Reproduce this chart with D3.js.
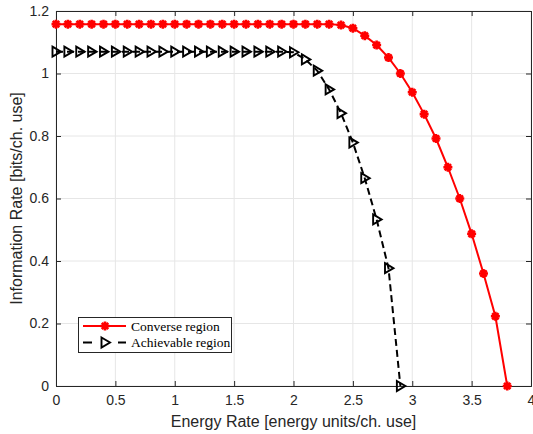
<!DOCTYPE html>
<html><head><meta charset="utf-8">
<script src="https://cdn.jsdelivr.net/npm/d3@7"></script>
<style>body{margin:0;background:#fff}svg{display:block}</style>
</head><body>
<svg id="chart" width="533" height="434"></svg>
<script>
const converseX = [0,0.1,0.2,0.3,0.4,0.5,0.6,0.7,0.8,0.9,1.0,1.1,1.2,1.3,1.4,1.5,1.6,1.7,1.8,1.9,2.0,2.1,2.2,2.3,2.4,2.5,2.6,2.7,2.8,2.9,3.0,3.1,3.2,3.3,3.4,3.5,3.6,3.7,3.8];
const converseY = [1.158,1.158,1.158,1.158,1.158,1.158,1.158,1.158,1.158,1.158,1.158,1.158,1.158,1.158,1.158,1.158,1.158,1.158,1.158,1.158,1.158,1.158,1.158,1.158,1.155,1.145,1.121,1.091,1.051,1.0,0.94,0.87,0.792,0.70,0.60,0.487,0.36,0.223,0];
const achievX = [0,0.1,0.2,0.3,0.4,0.5,0.6,0.7,0.8,0.9,1.0,1.1,1.2,1.3,1.4,1.5,1.6,1.7,1.8,1.9,2.0,2.1,2.2,2.3,2.4,2.5,2.6,2.7,2.8,2.9];
const achievY = [1.07,1.07,1.07,1.07,1.07,1.07,1.07,1.07,1.07,1.07,1.07,1.07,1.07,1.07,1.07,1.07,1.07,1.07,1.07,1.07,1.068,1.045,1.009,0.949,0.873,0.779,0.665,0.533,0.377,0];
const xTicks = [0,0.5,1,1.5,2,2.5,3,3.5,4];
const yTicks = [0,0.2,0.4,0.6,0.8,1,1.2];
const seriesNames = ["Converse region","Achievable region"];

const svg = d3.select("#chart");
const L=56, R=531, T=11, B=386;
const x = d3.scaleLinear().domain([0,4]).range([L,R]);
const y = d3.scaleLinear().domain([0,1.2]).range([B,T]);
const axisColor = "#262626";

// grid
const g = svg.append("g");
g.selectAll(".gx").data(xTicks).join("line")
  .attr("x1",d=>x(d)).attr("x2",d=>x(d)).attr("y1",T).attr("y2",B)
  .attr("stroke","#e6e6e6").attr("stroke-width",1);
g.selectAll(".gy").data(yTicks).join("line")
  .attr("x1",L).attr("x2",R).attr("y1",d=>y(d)).attr("y2",d=>y(d))
  .attr("stroke","#e6e6e6").attr("stroke-width",1);

// axes
const font = "'Liberation Sans', Arial, Helvetica, sans-serif";
const ax = svg.append("g").attr("transform",`translate(0,${B})`)
  .call(d3.axisBottom(x).tickValues(xTicks).tickSize(-5).tickPadding(9).tickFormat(d3.format("")));
const ay = svg.append("g").attr("transform",`translate(${L},0)`)
  .call(d3.axisLeft(y).tickValues(yTicks).tickSize(-5).tickPadding(7).tickFormat(d3.format("")));
const axT = svg.append("g").attr("transform",`translate(0,${T})`)
  .call(d3.axisTop(x).tickValues(xTicks).tickSize(-5).tickFormat(""));
const ayR = svg.append("g").attr("transform",`translate(${R},0)`)
  .call(d3.axisRight(y).tickValues(yTicks).tickSize(-5).tickFormat(""));
[ax,ay,axT,ayR].forEach(a=>{
  a.select(".domain").attr("stroke",axisColor).attr("stroke-width",1);
  a.selectAll(".tick line").attr("stroke",axisColor);
  a.selectAll("text").attr("fill",axisColor).style("font-family",font).style("font-size","14px");
});

// series
const lineC = d3.line().x((d,i)=>x(converseX[i])).y(d=>y(d));
const lineA = d3.line().x((d,i)=>x(achievX[i])).y(d=>y(d));
const plot = svg.append("g");

plot.append("path").datum(converseY).attr("d",lineC)
  .attr("fill","none").attr("stroke","#ff0000").attr("stroke-width",2);
const star = "M-4.5,0L4.5,0M0,-4.5L0,4.5M-3.2,-3.2L3.2,3.2M-3.2,3.2L3.2,-3.2";
plot.selectAll(".mc").data(converseY).join("path")
  .attr("transform",(d,i)=>`translate(${x(converseX[i])},${y(d)})`)
  .attr("d",star).attr("fill","none").attr("stroke","#ff0000").attr("stroke-width",2.6);

plot.append("path").datum(achievY).attr("d",lineA)
  .attr("fill","none").attr("stroke","#000").attr("stroke-width",2).attr("stroke-dasharray","7,4");
const tri = "M-3.5,-5L5,0L-3.5,5Z";
plot.selectAll(".ma").data(achievY).join("path")
  .attr("transform",(d,i)=>`translate(${x(achievX[i])},${y(d)})`)
  .attr("d",tri).attr("fill","none").attr("stroke","#000").attr("stroke-width",1.9).attr("stroke-linejoin","miter");

// labels
svg.append("text").attr("x",(L+R)/2 - 0).attr("y",427).attr("text-anchor","middle")
  .attr("fill",axisColor).style("font-family",font).style("font-size","16px")
  .text("Energy Rate [energy units/ch. use]");
svg.append("text").attr("transform",`translate(22,${(T+B)/2}) rotate(-90)`).attr("text-anchor","middle")
  .attr("fill",axisColor).style("font-family",font).style("font-size","16px")
  .text("Information Rate [bits/ch. use]");

// legend
const lg = svg.append("g");
lg.append("rect").attr("x",78.5).attr("y",317.5).attr("width",153).attr("height",35)
  .attr("fill","#fff").attr("stroke",axisColor).attr("stroke-width",1);
const rowsY = [326,342.5];
lg.append("line").attr("x1",83).attr("x2",126).attr("y1",rowsY[0]).attr("y2",rowsY[0])
  .attr("stroke","#ff0000").attr("stroke-width",2);
lg.append("path").attr("transform",`translate(105,${rowsY[0]})`).attr("d",star)
  .attr("fill","none").attr("stroke","#ff0000").attr("stroke-width",2.6);
lg.append("line").attr("x1",83).attr("x2",126).attr("y1",rowsY[1]).attr("y2",rowsY[1])
  .attr("stroke","#000").attr("stroke-width",2).attr("stroke-dasharray","9,26");
lg.append("path").attr("transform",`translate(105,${rowsY[1]})`).attr("d",tri)
  .attr("fill","none").attr("stroke","#000").attr("stroke-width",1.9);
lg.selectAll(".lt").data(seriesNames).join("text")
  .attr("x",131).attr("y",(d,i)=>rowsY[i]+4.5)
  .attr("fill","#000").style("font-family","'Liberation Serif','Times New Roman',serif").style("font-size","13.5px")
  .text(d=>d);
</script>
</body></html>
